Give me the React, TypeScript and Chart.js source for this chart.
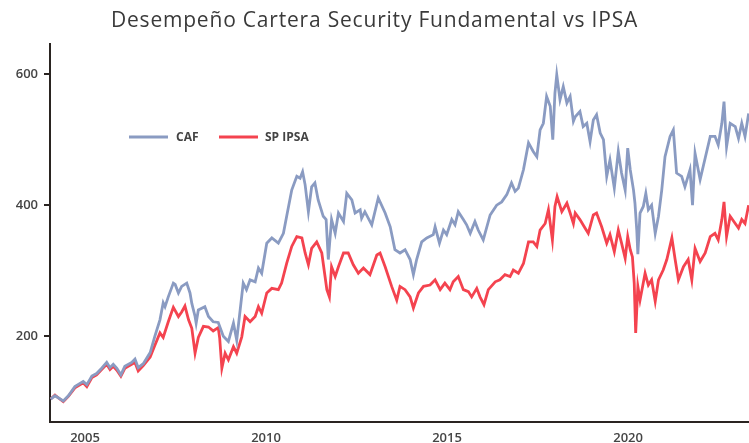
import React, { useEffect, useRef } from "react";
import { Chart, registerables } from "chart.js";

Chart.register(...registerables);

const TITLE = "Desempeño Cartera Security Fundamental vs IPSA";
const SERIES_NAMES = ["CAF", "SP IPSA"];
const SERIES_COLORS = ["#8a9bc2", "#f4434f"];

const xTickYears = [2005, 2010, 2015, 2020];
const yTickValues = [200, 400, 600];

const cafYears = [
  2004.05, 2004.17, 2004.26, 2004.4, 2004.54, 2004.72, 2004.95, 2005.05, 2005.19, 2005.32,
  2005.46, 2005.6, 2005.69, 2005.78, 2005.88, 2005.99, 2006.1, 2006.29, 2006.38, 2006.47,
  2006.61, 2006.8, 2006.93, 2007.07, 2007.16, 2007.21, 2007.3, 2007.44, 2007.49, 2007.58,
  2007.67, 2007.81, 2007.9, 2007.95, 2008.04, 2008.07, 2008.13, 2008.31, 2008.41, 2008.54,
  2008.68, 2008.82, 2008.96, 2009.1, 2009.19, 2009.37, 2009.46, 2009.56, 2009.7, 2009.79,
  2009.88, 2010.02, 2010.16, 2010.34, 2010.48, 2010.57, 2010.71, 2010.85, 2010.94, 2011.01,
  2011.08, 2011.17, 2011.26, 2011.35, 2011.44, 2011.58, 2011.66, 2011.72, 2011.81, 2011.91,
  2012.0, 2012.14, 2012.23, 2012.37, 2012.46, 2012.6, 2012.64, 2012.73, 2012.92, 2013.1,
  2013.29, 2013.43, 2013.56, 2013.7, 2013.84, 2013.98, 2014.07, 2014.16, 2014.3, 2014.44,
  2014.62, 2014.67, 2014.79, 2014.9, 2014.99, 2015.13, 2015.22, 2015.31, 2015.45, 2015.54,
  2015.64, 2015.77, 2015.86, 2016.0, 2016.19, 2016.37, 2016.51, 2016.65, 2016.78, 2016.88,
  2016.97, 2017.11, 2017.25, 2017.38, 2017.48, 2017.57, 2017.66, 2017.75, 2017.85, 2017.92,
  2017.98, 2018.03, 2018.12, 2018.21, 2018.31, 2018.4, 2018.49, 2018.54, 2018.67, 2018.76,
  2018.86, 2018.95, 2019.04, 2019.13, 2019.23, 2019.32, 2019.41, 2019.5, 2019.62, 2019.73,
  2019.82, 2019.92, 2019.99, 2020.06, 2020.15, 2020.19, 2020.24, 2020.27, 2020.33, 2020.42,
  2020.49, 2020.56, 2020.65, 2020.75, 2020.84, 2020.93, 2021.02, 2021.16, 2021.25, 2021.34,
  2021.48, 2021.57, 2021.71, 2021.78, 2021.85, 2021.99, 2022.13, 2022.27, 2022.4, 2022.49,
  2022.59, 2022.65, 2022.72, 2022.82, 2022.96, 2023.05, 2023.14, 2023.23, 2023.33,
];
const cafValues = [
  104, 109, 106, 101, 109, 123, 131, 126, 139, 143,
  151, 160, 152, 157, 151, 141, 154, 160, 165, 152,
  158, 175, 200, 225, 251, 245, 260, 281, 279, 266,
  276, 281, 266, 250, 230, 220, 240, 245, 230, 222,
  221, 200, 192, 220, 194, 281, 271, 286, 283, 304,
  296, 342, 350, 342, 357, 383, 423, 444, 441, 451,
  431, 390, 428, 434, 408, 383, 378, 317, 378, 357,
  388, 375, 418, 408, 388, 393, 380, 390, 370, 411,
  388, 367, 332, 327, 332, 317, 294, 317, 344, 350,
  355, 367, 342, 362, 355, 378, 370, 390, 378, 370,
  357, 375, 362, 347, 385, 400, 405, 416, 434, 421,
  426, 454, 495, 482, 474, 515, 525, 566, 551, 500,
  571, 599, 561, 581, 556, 566, 528, 535, 543, 520,
  525, 497, 530, 538, 510, 500, 444, 469, 426, 482,
  449, 423, 487, 454, 423, 403, 362, 325, 388, 398,
  418, 393, 400, 357, 383, 423, 474, 505, 515, 449,
  444, 428, 454, 400, 479, 439, 472, 505, 505, 492,
  525, 558, 489, 525, 520, 502, 525, 505, 540,
];

const ipsaYears = [
  2004.05, 2004.17, 2004.26, 2004.4, 2004.54, 2004.72, 2004.95, 2005.05, 2005.19, 2005.32,
  2005.46, 2005.6, 2005.69, 2005.78, 2005.88, 2005.99, 2006.1, 2006.29, 2006.38, 2006.47,
  2006.61, 2006.8, 2006.93, 2007.07, 2007.16, 2007.3, 2007.44, 2007.58, 2007.67, 2007.76,
  2007.86, 2007.95, 2008.04, 2008.13, 2008.27, 2008.41, 2008.54, 2008.68, 2008.72, 2008.78,
  2008.87, 2008.96, 2009.1, 2009.19, 2009.33, 2009.42, 2009.56, 2009.7, 2009.79, 2009.88,
  2010.02, 2010.16, 2010.34, 2010.43, 2010.57, 2010.71, 2010.85, 2010.99, 2011.08, 2011.17,
  2011.26, 2011.4, 2011.54, 2011.63, 2011.68, 2011.75, 2011.81, 2011.91, 2012.0, 2012.14,
  2012.27, 2012.41, 2012.55, 2012.69, 2012.87, 2013.06, 2013.15, 2013.29, 2013.47, 2013.61,
  2013.7, 2013.84, 2013.98, 2014.07, 2014.21, 2014.35, 2014.53, 2014.67, 2014.81, 2014.94,
  2015.08, 2015.17, 2015.31, 2015.45, 2015.59, 2015.68, 2015.82, 2015.91, 2016.02, 2016.14,
  2016.33, 2016.46, 2016.6, 2016.74, 2016.83, 2016.97, 2017.11, 2017.25, 2017.38, 2017.48,
  2017.57, 2017.71, 2017.8, 2017.91, 2017.98, 2018.04, 2018.17, 2018.31, 2018.4, 2018.49,
  2018.54, 2018.67, 2018.81, 2018.9, 2019.04, 2019.13, 2019.27, 2019.41, 2019.5, 2019.62,
  2019.73, 2019.82, 2019.92, 2019.99, 2020.06, 2020.12, 2020.17, 2020.21, 2020.27, 2020.33,
  2020.47, 2020.56, 2020.65, 2020.75, 2020.84, 2020.97, 2021.07, 2021.21, 2021.3, 2021.39,
  2021.53, 2021.66, 2021.76, 2021.85, 2021.99, 2022.13, 2022.27, 2022.4, 2022.49, 2022.59,
  2022.65, 2022.72, 2022.82, 2022.96, 2023.05, 2023.14, 2023.23, 2023.33,
];
const ipsaValues = [
  104, 110, 106, 100, 108, 121, 129, 123, 137, 141,
  149, 157, 149, 154, 148, 139, 151, 157, 160, 147,
  155, 168, 186, 205, 198, 222, 244, 230, 237, 246,
  225, 212, 174, 198, 215, 214, 208, 213, 197, 151,
  174, 164, 184, 174, 199, 230, 222, 230, 245, 235,
  266, 273, 271, 281, 311, 337, 352, 350, 327, 309,
  334, 344, 327, 291, 271, 260, 306, 291, 306, 327,
  327, 309, 296, 304, 294, 324, 327, 306, 276, 255,
  276, 271, 260, 243, 266, 276, 278, 286, 271, 281,
  271, 283, 291, 271, 268, 260, 273, 260, 248, 271,
  283, 286, 294, 291, 301, 296, 311, 344, 344, 337,
  362, 372, 393, 347, 398, 413, 390, 403, 388, 372,
  388, 378, 365, 357, 385, 388, 367, 342, 355, 329,
  362, 342, 319, 352, 332, 321, 281, 205, 276, 255,
  296, 278, 286, 253, 286, 301, 317, 350, 317, 286,
  306, 317, 286, 334, 314, 327, 352, 357, 347, 378,
  405, 352, 383, 372, 365, 378, 372, 400,
];

const FONT = "'Open Sans', 'DejaVu Sans', sans-serif";
const AXIS_COLOR = "#2a2421";
const TEXT_COLOR = "#444444";

const chartTitle = {
  id: "chartTitle",
  afterDraw(chart: any) {
    const ctx = chart.ctx;
    ctx.save();
    ctx.fillStyle = "#3a3a3a";
    ctx.font = `400 21px ${FONT}`;
    (ctx as any).letterSpacing = "0.8px";
    ctx.textAlign = "center";
    ctx.textBaseline = "middle";
    ctx.fillText(TITLE, chart.width / 2, 21);
    ctx.restore();
  },
};

const insideLegend = {
  id: "insideLegend",
  afterDraw(chart: any) {
    const ctx = chart.ctx;
    const slots = [
      { lineFrom: 129, lineTo: 168, textX: 176 },
      { lineFrom: 219, lineTo: 258, textX: 265 },
    ];
    const y = 137;
    ctx.save();
    chart.data.datasets.forEach((ds: any, i: number) => {
      const s = slots[i];
      ctx.strokeStyle = ds.borderColor;
      ctx.lineWidth = 3;
      ctx.beginPath();
      ctx.moveTo(s.lineFrom, y);
      ctx.lineTo(s.lineTo, y);
      ctx.stroke();
      ctx.fillStyle = TEXT_COLOR;
      ctx.font = `700 12px ${FONT}`;
      ctx.textBaseline = "middle";
      ctx.textAlign = "left";
      ctx.fillText(ds.label, s.textX, y + 1);
    });
    ctx.restore();
  },
};

export default function App() {
  const canvasRef = useRef<HTMLCanvasElement | null>(null);

  useEffect(() => {
    const canvas = canvasRef.current;
    if (!canvas) return;
    const caf = cafYears.map((x, i) => ({ x, y: cafValues[i] }));
    const ipsa = ipsaYears.map((x, i) => ({ x, y: ipsaValues[i] }));
    const chart = new Chart(canvas, {
      type: "line",
      data: {
        datasets: [
          {
            label: SERIES_NAMES[0],
            data: caf,
            borderColor: SERIES_COLORS[0],
            backgroundColor: SERIES_COLORS[0],
            borderWidth: 2.8,
            pointRadius: 0,
            tension: 0,
          },
          {
            label: SERIES_NAMES[1],
            data: ipsa,
            borderColor: SERIES_COLORS[1],
            backgroundColor: SERIES_COLORS[1],
            borderWidth: 2.8,
            pointRadius: 0,
            tension: 0,
          },
        ],
      },
      options: {
        animation: false,
        responsive: false,
        maintainAspectRatio: false,
        devicePixelRatio: 1,
        layout: { padding: { left: 0, right: 0, top: 44, bottom: 0 } },
        plugins: {
          legend: { display: false },
          tooltip: { enabled: false },
          title: { display: false },
        },
        scales: {
          x: {
            type: "linear",
            min: 2004.033,
            max: 2023.34,
            afterBuildTicks: (scale: any) => {
              scale.ticks = xTickYears.map((v) => ({ value: v }));
            },
            afterFit: (scale: any) => {
              scale.height = 21;
            },
            grid: { display: false, drawTicks: false },
            border: { display: true, color: AXIS_COLOR, width: 2 },
            ticks: {
              padding: 8,
              color: TEXT_COLOR,
              font: { family: FONT, size: 13, weight: "600" as any },
              maxRotation: 0,
              autoSkip: false,
              callback: (v: any) => String(v),
            },
          },
          y: {
            type: "linear",
            min: 69,
            max: 646,
            afterBuildTicks: (scale: any) => {
              scale.ticks = yTickValues.map((v) => ({ value: v }));
            },
            afterFit: (scale: any) => {
              scale.width = 50;
            },
            grid: {
              display: true,
              drawOnChartArea: false,
              drawTicks: true,
              tickLength: 6,
              color: AXIS_COLOR,
              lineWidth: 2,
            },
            border: { display: true, color: AXIS_COLOR, width: 2 },
            ticks: {
              padding: 6,
              color: TEXT_COLOR,
              font: { family: FONT, size: 13, weight: "600" as any },
              callback: (v: any) => String(v),
            },
          },
        },
      },
      plugins: [chartTitle, insideLegend],
    });
    return () => chart.destroy();
  }, []);

  return (
    <div style={{ position: "absolute", left: 0, top: 0, width: 749, height: 443, background: "#fff" }}>
      <canvas ref={canvasRef} width={749} height={443} style={{ display: "block" }} />
    </div>
  );
}
